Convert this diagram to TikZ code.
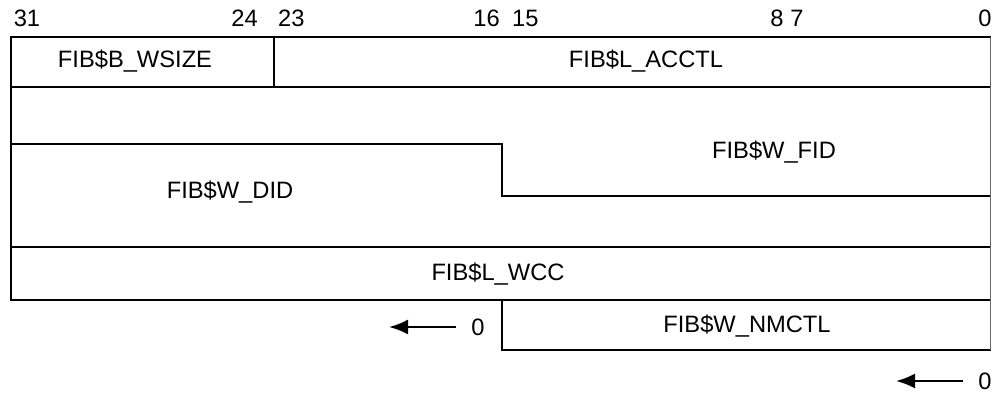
\documentclass[tikz,border=0pt]{standalone}
\usepackage{fontspec}
\setmainfont{Liberation Sans}
\usetikzlibrary{arrows.meta}
\begin{document}
\begin{tikzpicture}[x=1pt,y=-1pt,
  lbl/.style={font=\fontsize{23.7}{26}\selectfont, inner sep=0pt},
  frame/.style={line width=2.2pt, line cap=rect},
  edge/.style={line width=0.8pt, black!60},
  arr/.style={line width=2.2pt, -{Latex[length=19pt,width=15pt]}}]
\useasboundingbox (0,0) rectangle (992,397);
% bit numbers
\node[lbl] (b31) at (27,18) {31};
\node[lbl, anchor=east] (b24) at (258,18) {24};
\node[lbl, anchor=west] (b23) at (278,18) {23};
\node[lbl, anchor=east] (b16) at (500,18) {16};
\node[lbl, anchor=west] (b15) at (512,18) {15};
\node[lbl] (b8) at (777,18) {8};
\node[lbl] (b7) at (797,18) {7};
\node[lbl] (b0) at (985,18) {0};
% frame lines
\draw[frame] (11,37) -- (990,37);
\draw[frame] (11,87) -- (990,87);
\draw[frame] (11,247) -- (990,247);
\draw[frame] (11,300) -- (990,300);
\draw[frame] (11,37) -- (11,300);
\draw[frame] (274,37) -- (274,87);
\draw[frame] (11,144) -- (502,144) -- (502,196) -- (990,196);
\draw[frame] (502,300) -- (502,350) -- (990,350);
\draw[edge] (990,37) -- (990,350);
% field labels
\node[lbl] (wsize) at (135,61) {FIB\$B\_WSIZE};
\node[lbl] (acctl) at (646,61) {FIB\$L\_ACCTL};
\node[lbl] (fid) at (774,152) {FIB\$W\_FID};
\node[lbl] (did) at (230,192) {FIB\$W\_DID};
\node[lbl] (wcc) at (498,274) {FIB\$L\_WCC};
\node[lbl] (nmctl) at (747,326) {FIB\$W\_NMCTL};
% arrows
\node[lbl] (z1) at (478,327) {0};
\coordinate (a1s) at (456,327);
\coordinate (a1e) at (389,327);
\draw[arr] (a1s) -- (a1e);
\node[lbl] (z2) at (985,381) {0};
\coordinate (a2s) at (963,381);
\coordinate (a2e) at (896,381);
\draw[arr] (a2s) -- (a2e);
\end{tikzpicture}
\end{document}
